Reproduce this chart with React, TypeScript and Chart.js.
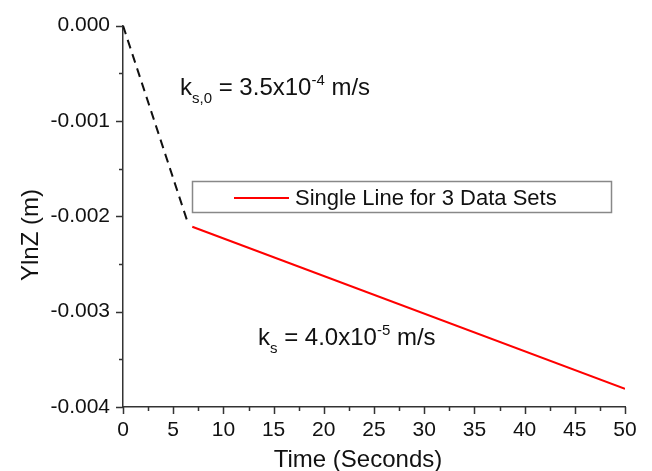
import React, { useEffect, useRef } from "react";
import { Chart, registerables } from "chart.js";

Chart.register(...registerables);

// Data
const dashedTime = [0, 6.4];
const dashedYlnZ = [0, -0.00205];
const redTime = [6.9, 50];
const redYlnZ = [-0.00211, -0.00381];

const xMajorTicks = [0, 5, 10, 15, 20, 25, 30, 35, 40, 45, 50];
const xMinorTicks = [2.5, 7.5, 12.5, 17.5, 22.5, 27.5, 32.5, 37.5, 42.5, 47.5];
const yMajorTicks = [0, -0.001, -0.002, -0.003, -0.004];
const yMinorTicks = [-0.0005, -0.0015, -0.0025, -0.0035];

const legendLabel = "Single Line for 3 Data Sets";
const xTitle = "Time (Seconds)";
const yTitle = "YlnZ (m)";

const FONT = "Arial, 'Liberation Sans', sans-serif";

function drawRich(ctx: CanvasRenderingContext2D, x: number, y: number, parts: { t: string; kind: "n" | "sub" | "sup" }[]) {
  let cx = x;
  for (const p of parts) {
    if (p.kind === "n") {
      ctx.font = `24px ${FONT}`;
      ctx.fillText(p.t, cx, y);
    } else if (p.kind === "sub") {
      ctx.font = `15px ${FONT}`;
      ctx.fillText(p.t, cx, y + 8);
    } else {
      ctx.font = `15px ${FONT}`;
      ctx.fillText(p.t, cx, y - 10);
    }
    cx += ctx.measureText(p.t).width;
  }
}

const overlay = {
  id: "overlay",
  afterDraw(chart: any) {
    const ctx = chart.ctx as CanvasRenderingContext2D;
    const xs = chart.scales.x;
    const ys = chart.scales.y;
    const left = chart.chartArea.left;
    const bottom = chart.chartArea.bottom;
    ctx.save();
    ctx.strokeStyle = "#333";
    ctx.lineWidth = 1.5;
    ctx.beginPath();
    for (const v of xMajorTicks) {
      const px = Math.round(xs.getPixelForValue(v)) + 0.5;
      ctx.moveTo(px, bottom);
      ctx.lineTo(px, bottom + 7);
    }
    for (const v of xMinorTicks) {
      const px = Math.round(xs.getPixelForValue(v)) + 0.5;
      ctx.moveTo(px, bottom);
      ctx.lineTo(px, bottom + 4);
    }
    for (const v of yMajorTicks) {
      const py = Math.round(ys.getPixelForValue(v)) + 0.5;
      ctx.moveTo(left, py);
      ctx.lineTo(left - 7, py);
    }
    for (const v of yMinorTicks) {
      const py = Math.round(ys.getPixelForValue(v)) + 0.5;
      ctx.moveTo(left, py);
      ctx.lineTo(left - 4, py);
    }
    ctx.stroke();

    // axis titles
    ctx.fillStyle = "#111";
    ctx.font = `24px ${FONT}`;
    ctx.textAlign = "center";
    ctx.textBaseline = "alphabetic";
    ctx.fillText(xTitle, 358, 467);
    ctx.save();
    ctx.translate(38, 235);
    ctx.rotate(-Math.PI / 2);
    ctx.fillText(yTitle, 0, 0);
    ctx.restore();

    // legend
    ctx.strokeStyle = "#888";
    ctx.lineWidth = 1.5;
    ctx.strokeRect(192.5, 181.5, 419, 31);
    ctx.strokeStyle = "#ff0000";
    ctx.lineWidth = 2;
    ctx.beginPath();
    ctx.moveTo(234, 198);
    ctx.lineTo(289, 198);
    ctx.stroke();
    ctx.textAlign = "left";
    ctx.font = `22px ${FONT}`;
    ctx.fillStyle = "#111";
    ctx.fillText(legendLabel, 295, 205);

    // annotations
    drawRich(ctx, 180, 95, [
      { t: "k", kind: "n" },
      { t: "s,0", kind: "sub" },
      { t: " = 3.5x10", kind: "n" },
      { t: "-4", kind: "sup" },
      { t: " m/s", kind: "n" },
    ]);
    drawRich(ctx, 258, 345, [
      { t: "k", kind: "n" },
      { t: "s", kind: "sub" },
      { t: " = 4.0x10", kind: "n" },
      { t: "-5", kind: "sup" },
      { t: " m/s", kind: "n" },
    ]);
    ctx.restore();
  },
};

export default function App() {
  const ref = useRef<HTMLCanvasElement | null>(null);
  useEffect(() => {
    if (!ref.current) return;
    const chart = new Chart(ref.current, {
      type: "line",
      data: {
        datasets: [
          {
            label: "k_s,0",
            data: dashedTime.map((t, i) => ({ x: t, y: dashedYlnZ[i] })),
            borderColor: "#111",
            borderWidth: 2,
            borderDash: [9, 6],
            pointRadius: 0,
            fill: false,
          },
          {
            label: legendLabel,
            data: redTime.map((t, i) => ({ x: t, y: redYlnZ[i] })),
            borderColor: "#ff0000",
            borderWidth: 2,
            pointRadius: 0,
            fill: false,
          },
        ],
      },
      options: {
        animation: false,
        responsive: false,
        maintainAspectRatio: false,
        layout: { padding: { top: 20, right: 27, left: 0, bottom: 0 } },
        plugins: { legend: { display: false }, tooltip: { enabled: false } },
        scales: {
          x: {
            type: "linear",
            min: 0,
            max: 50,
            grid: { display: false, drawTicks: false },
            border: { display: true, color: "#333", width: 1.5 },
            ticks: {
              stepSize: 5,
              padding: 11,
              color: "#111",
              font: { family: FONT, size: 21 },
              maxRotation: 0,
              autoSkip: false,
            },
            afterFit: (s: any) => {
              s.height = 64;
            },
          },
          y: {
            type: "linear",
            min: -0.004,
            max: 0,
            grid: { display: false, drawTicks: false },
            border: { display: true, color: "#333", width: 1.5 },
            ticks: {
              stepSize: 0.001,
              padding: 13,
              color: "#111",
              font: { family: FONT, size: 21 },
              callback: (v: any) => {
                const r = Math.round(Number(v) * 1000) / 1000;
                return r === 0 ? "0.000" : r.toFixed(3);
              },
            },
            afterFit: (s: any) => {
              s.width = 123;
            },
          },
        },
      },
      plugins: [overlay],
    });
    return () => chart.destroy();
  }, []);
  return (
    <div style={{ position: "fixed", left: 0, top: 0, width: 652, height: 471, background: "#fff" }}>
      <canvas ref={ref} width={652} height={471} style={{ width: 652, height: 471 }} />
    </div>
  );
}
